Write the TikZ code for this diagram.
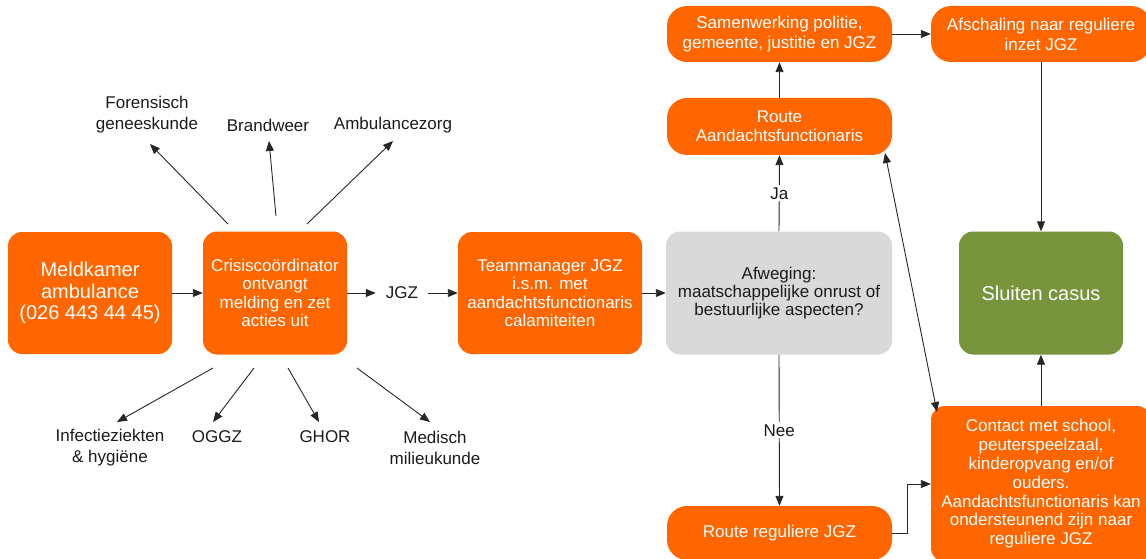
\documentclass[tikz,border=0pt]{standalone}
\usepackage{fontspec}
\setmainfont{Liberation Sans}
\usetikzlibrary{arrows.meta}
\definecolor{org}{HTML}{FF6600}
\definecolor{grayb}{HTML}{D9D9D9}
\definecolor{grn}{HTML}{77933C}
\definecolor{lnc}{HTML}{262626}
\definecolor{txt}{HTML}{1A1A1A}
\begin{document}
\begin{tikzpicture}[x=1pt,y=-1pt,
  box/.style={fill=org, text=white, rounded corners=14pt, align=center, inner sep=0pt,
    font=\fontsize{17}{18.8}\selectfont},
  pill/.style={box, rounded corners=20pt},
  bigtxt/.style={font=\fontsize{20}{21.7}\selectfont},
  lbl/.style={align=center, inner sep=0pt, text=txt, font=\fontsize{17}{21}\selectfont},
  arr/.style={draw=lnc, line width=0.9pt, -{Triangle[length=10pt,width=8pt]}},
  darr/.style={draw=lnc, line width=0.9pt, {Triangle[length=10pt,width=8pt]}-{Triangle[length=10pt,width=8pt]}},
  yn/.style={lbl, fill=white, inner sep=2pt},
]
\useasboundingbox (0,0) rectangle (1146,559);

% boxes
\node[box, bigtxt, minimum width=164pt, minimum height=122pt] (meld) at (90,293)
  {Meldkamer\\ambulance\\(026 443 44 45)};
\node[box, minimum width=144pt, minimum height=123pt, font=\fontsize{17}{18.3}\selectfont] (cris) at (275,293)
  {Crisiscoördinator\\ontvangt\\melding en zet\\acties uit};
\node[lbl, inner xsep=10pt] (jgz) at (402,293) {JGZ};
\node[box, minimum width=184pt, minimum height=122pt, font=\fontsize{17}{18.3}\selectfont] (team) at (550,293)
  {Teammanager JGZ\\i.s.m. met\\aandachtsfunctionaris\\calamiteiten};
\node[box, fill=grayb, text=txt, minimum width=226pt, minimum height=123pt, font=\fontsize{17}{18}\selectfont] (afw) at (779,293)
  {Afweging:\\maatschappelijke onrust of\\bestuurlijke aspecten?};
\node[box, fill=grn, bigtxt, minimum width=164pt, minimum height=123pt] (sluit) at (1041,293)
  {Sluiten casus};
\node[pill, minimum width=225pt, minimum height=56pt, font=\fontsize{17}{20}\selectfont] (samen) at (779.5,34)
  {Samenwerking politie,\\gemeente, justitie en JGZ};
\node[pill, minimum width=220pt, minimum height=56pt, font=\fontsize{17}{20}\selectfont] (afsch) at (1041,34)
  {Afschaling naar reguliere\\inzet JGZ};
\node[pill, minimum width=225pt, minimum height=57pt, font=\fontsize{17}{19}\selectfont] (routeA) at (779.5,126.5)
  {Route\\Aandachtsfunctionaris};
\node[pill, minimum width=225pt, minimum height=54pt] (routeR) at (779.5,533)
  {Route reguliere JGZ};
\node[box, minimum width=220pt, minimum height=156pt] (contact) at (1041,484)
  {Contact met school,\\peuterspeelzaal,\\kinderopvang en/of\\ouders.\\Aandachtsfunctionaris kan\\ondersteunend zijn naar\\reguliere JGZ};

% fan labels
\node[lbl] (fore) at (147,114.5) {Forensisch\\geneeskunde};
\node[lbl] (brand) at (268,125) {Brandweer};
\node[lbl] (ambu) at (393,125) {Ambulancezorg};
\node[lbl] (infe) at (110,447.5) {Infectieziekten\\\& hygiëne};
\node[lbl] (oggz) at (217,437) {OGGZ};
\node[lbl] (ghor) at (325,437) {GHOR};
\node[lbl] (medi) at (435,447.5) {Medisch\\milieukunde};

% fan coordinates
\coordinate (s1) at (228,224); \coordinate (e1) at (150,144);
\coordinate (s2) at (276,216); \coordinate (e2) at (269,141);
\coordinate (s3) at (307,224); \coordinate (e3) at (393,141);
\coordinate (s4) at (213,368); \coordinate (e4) at (117,422);
\coordinate (s5) at (254,368); \coordinate (e5) at (213,422);
\coordinate (s6) at (288,368); \coordinate (e6) at (319,422);
\coordinate (s7) at (357,368); \coordinate (e7) at (430,422);
\foreach \i in {1,...,7} {\draw[arr] (s\i) -- (e\i);}

% main connectors
\draw[arr] (meld.east) -- (meld.east -| cris.west);
\draw[arr] (cris.east) -- (cris.east -| jgz.west);
\draw[arr] (jgz.east) -- (jgz.east -| team.west);
\draw[arr] (team.east) -- (team.east -| afw.west);
\draw[arr] (afw.north) -- node[yn] (ja) {Ja} (routeA.south);
\draw[arr] (routeA.north) -- (samen.south);
\draw[arr] (samen.east) -- (samen.east -| afsch.west);
\draw[arr] (afsch.south) -- (sluit.north);
\draw[arr] (afw.south) -- node[yn] (nee) {Nee} (routeR.north);
\draw[arr] (routeR.east) -- ++(15,0) |- (contact.west);
\draw[arr] (contact.north) -- (sluit.south);
\coordinate (dA) at (885,153);
\coordinate (dB) at (937,412);
\draw[darr] (dA) -- (dB);
\end{tikzpicture}
\end{document}
